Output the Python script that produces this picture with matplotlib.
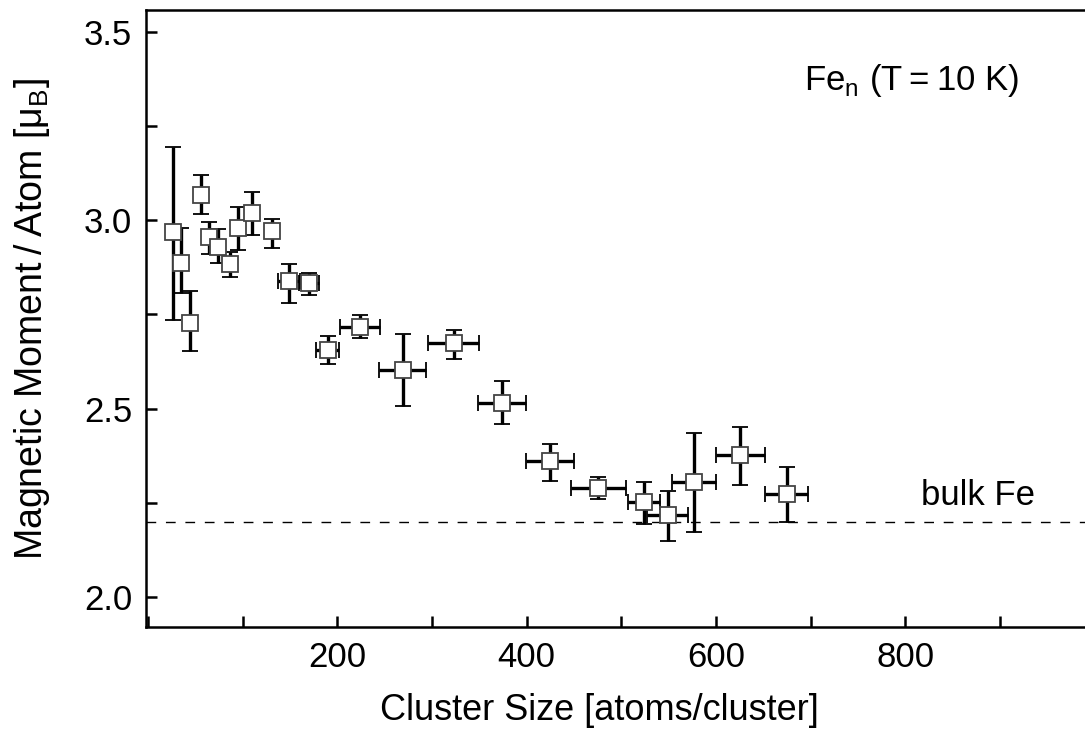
import matplotlib
matplotlib.use("Agg")
import matplotlib.pyplot as plt
from matplotlib.ticker import MultipleLocator
import numpy as np

plt.rcParams['font.family'] = ['Liberation Sans', 'DejaVu Sans']
plt.rcParams['mathtext.fontset'] = 'custom'
plt.rcParams['mathtext.rm'] = 'Liberation Sans'

# cluster size (atoms/cluster)
size = [26, 35, 44, 56, 64, 74, 87, 95, 110, 131, 149, 170,
        190, 224, 269, 323, 374, 425, 476, 524, 549, 577, 626, 675]
# size uncertainty (+/-)
size_err = [0, 0, 0, 0, 0, 0, 0, 0, 0, 0, 12, 10.5,
            12, 20.7, 25, 26.6, 25, 25.6, 29.4, 17, 22, 23.4, 26, 22.7]
# magnetic moment per atom (mu_B)
moment = [2.969, 2.887, 2.726, 3.068, 2.956, 2.928, 2.885, 2.980, 3.019, 2.970, 2.839, 2.834,
          2.655, 2.717, 2.602, 2.675, 2.514, 2.361, 2.290, 2.252, 2.218, 2.305, 2.376, 2.273]
# upper / lower ends of the moment error bars
moment_hi = [3.194, 2.978, 2.812, 3.119, 2.994, 2.977, 2.916, 3.034, 3.075, 3.002, 2.885, 2.860,
             2.692, 2.748, 2.698, 2.708, 2.572, 2.406, 2.318, 2.304, 2.281, 2.434, 2.452, 2.344]
moment_lo = [2.735, 2.806, 2.653, 3.016, 2.910, 2.887, 2.850, 2.920, 2.960, 2.925, 2.779, 2.801,
             2.617, 2.686, 2.508, 2.631, 2.458, 2.307, 2.259, 2.193, 2.148, 2.172, 2.296, 2.198]
bulk_fe = 2.2

x_ticks = [200, 400, 600, 800]
y_ticks = [2.0, 2.5, 3.0, 3.5]

fig = plt.figure(figsize=(10.85, 7.31), dpi=100)
ax = fig.add_axes([0.1346, 0.1423, 0.8654, 0.8440])

m = np.array(moment)
yerr = [m - np.array(moment_lo), np.array(moment_hi) - m]
xerr = np.array(size_err)

ax.axhline(bulk_fe, color='black', lw=1.0, dashes=(7, 7), zorder=1)

ax.errorbar(size, moment, yerr=yerr, xerr=xerr, fmt='s', ms=11,
            mfc='white', mec='#444444', mew=1.3, ecolor='black',
            elinewidth=2.4, capsize=5.5, capthick=2.4, zorder=3)

ax.set_xlim(-2, 990)
ax.set_ylim(1.920, 3.558)
ax.set_xticks(x_ticks)
ax.xaxis.set_minor_locator(MultipleLocator(100))
ax.set_yticks(y_ticks)
ax.yaxis.set_minor_locator(MultipleLocator(0.25))
ax.set_yticklabels(['%.1f' % v for v in y_ticks])

ax.tick_params(which='both', direction='in', length=8, width=1.8,
               labelsize=25, pad=10, top=False, right=False)
for s in ['left', 'bottom', 'top']:
    ax.spines[s].set_linewidth(1.8)
ax.spines['right'].set_visible(False)

ax.set_xlabel('Cluster Size [atoms/cluster]', fontsize=26)
ax.xaxis.set_label_coords(0.4824, -0.107, transform=ax.transAxes)
ax.xaxis.label.set_va('top')
ax.set_ylabel('Magnetic Moment\u2009/\u2009Atom [μ$_\\mathregular{B}$]', fontsize=27, labelpad=23)

ax.text(807, 3.371, 'Fe$_\\mathregular{n}$ (T\u2009=\u200910 K)', fontsize=25,
        ha='center', va='center')
ax.text(877, 2.27, 'bulk Fe', fontsize=25, ha='center', va='center')

fig.savefig('out.png', dpi=100)
